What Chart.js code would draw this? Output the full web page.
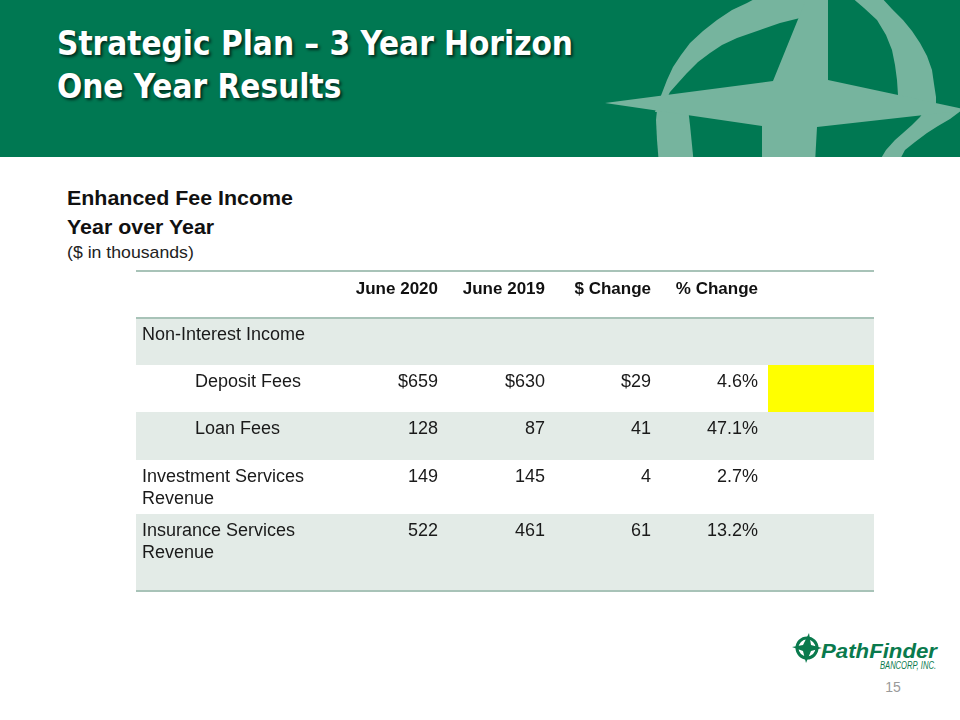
<!DOCTYPE html>
<html>
<head>
<meta charset="utf-8">
<script src="https://cdn.jsdelivr.net/npm/chart.js@4/dist/chart.umd.min.js"></script>
<style>
  html, body { margin: 0; padding: 0; background: #fff; }
  #slide { position: relative; width: 960px; height: 720px; overflow: hidden; font-family: 'Liberation Sans', Arial, sans-serif; }
  #band { position: absolute; left: 0; top: 0; width: 960px; height: 157px; background: #007852; overflow: hidden; }
  #band svg { position: absolute; left: 0; top: 0; }
  #title { position: absolute; left: 57px; top: 22px; color: #fff; font-family: 'DejaVu Sans Condensed', 'DejaVu Sans', sans-serif; font-weight: bold; font-size: 33px; line-height: 43px; text-shadow: 2px 2px 3px rgba(0,0,0,0.65); }
  #sub { position: absolute; left: 67px; top: 184px; color: #111; transform-origin: 0 0; }
  #sub .h { font-weight: bold; font-size: 20px; line-height: 29px; transform: scaleX(1.07); transform-origin: 0 0; white-space: nowrap; }
  #sub .u { font-size: 17px; line-height: 21px; color: #222; transform: scaleX(1.04); transform-origin: 0 0; white-space: nowrap; }
  #tableChart { position: absolute; left: 130px; top: 266px; }
  #logo { position: absolute; left: 790px; top: 630px; }
  #page { position: absolute; left: 879px; top: 679px; width: 28px; text-align: center; font-size: 14px; color: #9a9a9a; }
</style>
</head>
<body>
<div id="slide">
  <div id="band">
    <svg width="960" height="157">
      <g fill="#76b49e">
        <polygon points="655,112 658,103 662,93 667,80 673,67 681,55 690,43 703,31 717,20 732,10 747,3 760,-4 812,-4 810,16 800,18 780,23 760,30 737,38 722,45 710,53 698,62 687,73 678,83 670,92 666,100 664,112"/>
        <polygon points="845,-4 880,-4 892,9 903,20 912,31 920,43 927,56 932,70 934,84 936,97 936,110 898,110 898,95 897,80 895,65 892,50 886,35 877,20 864,8 850,-4"/>
        <polygon points="658,100 656,120 657,140 659,165 694,165 692,145 690,125 688,108"/>
        <polygon points="962,110 950,119 938,126 927,133 915,142 905,150 897,165 877,165 886,150 895,140 903,133 912,125 920,117 925,110"/>
        <polygon points="605,103 773,81 818,-30 828,-30 828,80 968,110 817,127 813,200 762,200 762,126"/>
      </g>
    </svg>
    <div id="title">Strategic Plan – 3 Year Horizon<br>One Year Results</div>
  </div>
  <div id="sub">
    <div class="h">Enhanced Fee Income</div>
    <div class="h">Year over Year</div>
    <div class="u">($ in thousands)</div>
  </div>
  <canvas id="tableChart" width="750" height="330"></canvas>
  <svg id="logo" width="160" height="50">
    <g transform="translate(17,18)" fill="#0a7a4d">
      <circle cx="0" cy="0" r="10" fill="none" stroke="#0a7a4d" stroke-width="3"/>
      <polygon points="2,-15 4,-3 15,0 4,3 -1,15 -4,3 -15,-1 -4,-3"/>
    </g>
    <text x="31" y="28" textLength="116" lengthAdjust="spacingAndGlyphs" font-family="'Liberation Sans', Arial, sans-serif" font-weight="bold" font-style="italic" font-size="21" fill="#0a7a4d">PathFinder</text>
    <text x="90" y="39" textLength="56" lengthAdjust="spacingAndGlyphs" font-family="'Liberation Sans', Arial, sans-serif" font-style="italic" font-size="10" fill="#0a7a4d">BANCORP, INC.</text>
  </svg>
  <div id="page">15</div>
</div>

<script>
// Dữ liệu bảng
const rowLabels = ['Non-Interest Income', 'Deposit Fees', 'Loan Fees', 'Investment Services\nRevenue', 'Insurance Services\nRevenue'];
const rowIndent = [false, true, true, false, false];
const colHeaders = ['June 2020', 'June 2019', '$ Change', '% Change'];
const june2020 = [null, 659, 128, 149, 522];
const june2019 = [null, 630, 87, 145, 461];
const dollarChange = [null, 29, 41, 4, 61];
const pctChange = [null, 4.6, 47.1, 2.7, 13.2];
const dollarSign = [false, true, false, false, false];
const highlighted = [false, true, false, false, false];

// Bố cục bảng (đơn vị của trục)
const rowEdges = [0, 47, 94, 141, 189, 243, 320];
const colRight = [302, 409, 515, 622];
const highlightCol = [632, 738];

const fontTable = "'Liberation Sans', Arial, sans-serif";

function fmtMoney(v, withSign) { return (withSign ? '$' : '') + v; }

const tablePlugin = {
    id: 'tablePlugin',
    beforeDatasetsDraw(chart) {
        const ctx = chart.ctx;
        const x = chart.scales.x, y = chart.scales.y;
        const left = x.getPixelForValue(0), right = x.getPixelForValue(738);

        // nền các hàng
        rowLabels.forEach((lab, i) => {
            const top = y.getPixelForValue(rowEdges[i + 1]);
            const bot = y.getPixelForValue(rowEdges[i + 2]);
            if (i % 2 === 0) {
                ctx.fillStyle = '#e3ebe7';
                ctx.fillRect(left, top, right - left, bot - top);
            }
            if (highlighted[i]) {
                ctx.fillStyle = '#ffff00';
                const hx0 = x.getPixelForValue(highlightCol[0]), hx1 = x.getPixelForValue(highlightCol[1]);
                ctx.fillRect(hx0, top, hx1 - hx0, bot - top);
            }
        });

        // đường kẻ
        ctx.strokeStyle = '#a8c3b8';
        ctx.lineWidth = 2;
        [rowEdges[0], rowEdges[1], rowEdges[rowEdges.length - 1]].forEach(v => {
            const py = y.getPixelForValue(v);
            ctx.beginPath();
            ctx.moveTo(left, py);
            ctx.lineTo(right, py);
            ctx.stroke();
        });

        // tiêu đề cột
        ctx.textBaseline = 'middle';
        ctx.fillStyle = '#111';
        ctx.font = 'bold 17px ' + fontTable;
        ctx.textAlign = 'right';
        colHeaders.forEach((h, c) => {
            ctx.fillText(h, x.getPixelForValue(colRight[c]), y.getPixelForValue(rowEdges[0] + 18));
        });

        // các hàng dữ liệu
        ctx.font = '18px ' + fontTable;
        ctx.fillStyle = '#1a1a1a';
        rowLabels.forEach((lab, i) => {
            const ty = rowEdges[i + 1] + 17;
            ctx.textAlign = 'left';
            lab.split('\n').forEach((part, k) => {
                ctx.fillText(part, x.getPixelForValue(rowIndent[i] ? 59 : 6), y.getPixelForValue(ty + k * 22));
            });
            if (june2020[i] === null) return;
            ctx.textAlign = 'right';
            const cells = [
                fmtMoney(june2020[i], dollarSign[i]),
                fmtMoney(june2019[i], dollarSign[i]),
                fmtMoney(dollarChange[i], dollarSign[i]),
                pctChange[i].toFixed(1) + '%'
            ];
            cells.forEach((t, c) => {
                ctx.fillText(t, x.getPixelForValue(colRight[c]), y.getPixelForValue(ty));
            });
        });
    }
};

const tableChart = new Chart(document.getElementById('tableChart').getContext('2d'), {
    type: 'scatter',
    data: { datasets: [{ data: [], pointRadius: 0 }] },
    options: {
        responsive: false,
        animation: false,
        events: [],
        layout: { padding: { left: 6, right: 6, top: 5, bottom: 5 } },
        plugins: { legend: { display: false }, tooltip: { enabled: false } },
        scales: {
            x: { type: 'linear', min: 0, max: 738, display: false },
            y: { type: 'linear', min: 0, max: 320, reverse: true, display: false }
        }
    },
    plugins: [tablePlugin]
});
</script>
</body>
</html>
